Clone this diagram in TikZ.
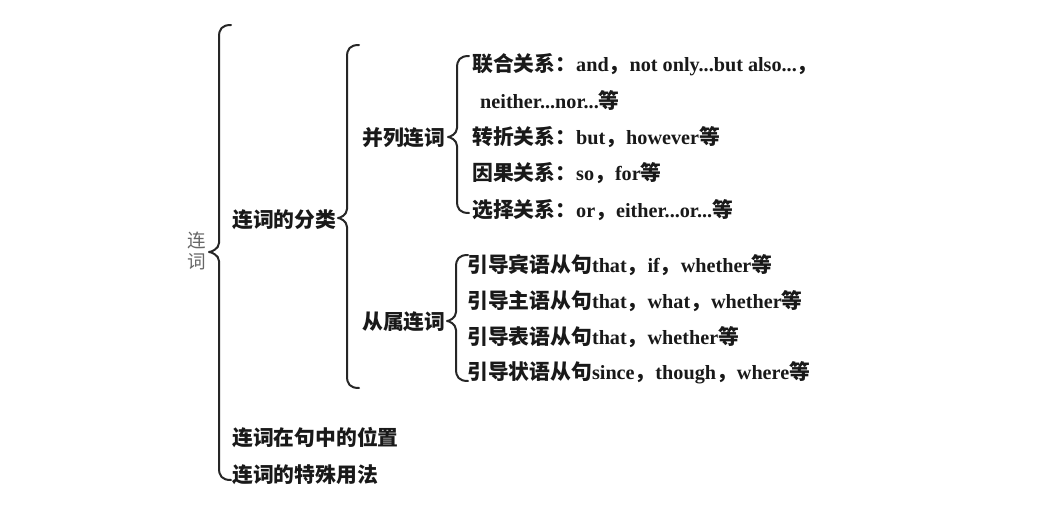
\documentclass[tikz,border=0pt]{standalone}
\usepackage{fontspec}
\setmainfont{Liberation Serif}
\newfontfamily\cjk[Scale=1.03]{Noto Sans CJK SC}
\usetikzlibrary{calc}
\newcommand\zh[1]{{\cjk #1}}
\newcommand\curlybrace[3]{%
  \draw[bracestyle] let \p1=(#1),\p2=(#2),\p3=(#3) in
    (\x1+12pt,\y1) .. controls (\x1+3pt,\y1) and (\x1,\y1-4pt) .. (\x1,\y1-12pt)
    -- (\x1,\y2+9pt) .. controls (\x1,\y2+3pt) and (\x2+2pt,\y2) .. (\x2,\y2)
    .. controls (\x2+2pt,\y2) and (\x1,\y2-3pt) .. (\x1,\y2-9pt)
    -- (\x3,\y3+12pt) .. controls (\x3,\y3+4pt) and (\x3+3pt,\y3) .. (\x3+12pt,\y3);}
\begin{document}
\begin{tikzpicture}[x=1pt,y=-1pt,
  bracestyle/.style={line width=2pt, line cap=round, line join=round, black!85},
  lv/.style={anchor=west, inner sep=0pt, font=\fontsize{20.2}{24}\selectfont\bfseries, text=black!90},
  rootlabel/.style={align=center, inner sep=0pt, font=\cjk\fontsize{18}{21}\selectfont, text=black!60}]
\useasboundingbox[fill=white] (0,0) rectangle (1061,508);

% root
\node[rootlabel] (root) at (197,251) {连\\词};
\coordinate (b1t) at (219,25); \coordinate (b1m) at (209,252); \coordinate (b1b) at (219,480);
\curlybrace{b1t}{b1m}{b1b}

% level 1
\node[lv] (cls) at (232,220) {\zh{连词的分类}};
\node[lv] (pos) at (232,438) {\zh{连词在句中的位置}};
\node[lv] (use) at (232,475) {\zh{连词的特殊用法}};

\coordinate (b2t) at (347,45); \coordinate (b2m) at (338,218); \coordinate (b2b) at (347,388);
\curlybrace{b2t}{b2m}{b2b}

% level 2
\node[lv] (bl) at (362,138) {\zh{并列连词}};
\node[lv] (cs) at (362,322) {\zh{从属连词}};

\coordinate (b3t) at (457,56); \coordinate (b3m) at (448,137); \coordinate (b3b) at (457,213);
\curlybrace{b3t}{b3m}{b3b}
\coordinate (b4t) at (456,255); \coordinate (b4m) at (447,321); \coordinate (b4b) at (456,381);
\curlybrace{b4t}{b4m}{b4b}

% coordinating items
\node[lv] (c1) at (472,65) {\zh{联合关系：}and\zh{，}not only...but also...\zh{，}};
\node[lv] (c1b) at (480,100) {neither...nor...\zh{等}};
\node[lv] (c2) at (472,137) {\zh{转折关系：}but\zh{，}however\zh{等}};
\node[lv] (c3) at (472,173) {\zh{因果关系：}so\zh{，}for\zh{等}};
\node[lv] (c4) at (472,210) {\zh{选择关系：}or\zh{，}either...or...\zh{等}};

% subordinating items
\node[lv] (s1) at (467,265) {\zh{引导宾语从句}that\zh{，}if\zh{，}whether\zh{等}};
\node[lv] (s2) at (467,301) {\zh{引导主语从句}that\zh{，}what\zh{，}whether\zh{等}};
\node[lv] (s3) at (467,337) {\zh{引导表语从句}that\zh{，}whether\zh{等}};
\node[lv] (s4) at (467,373) {\zh{引导状语从句}since\zh{，}though\zh{，}where\zh{等}};
\end{tikzpicture}
\end{document}
